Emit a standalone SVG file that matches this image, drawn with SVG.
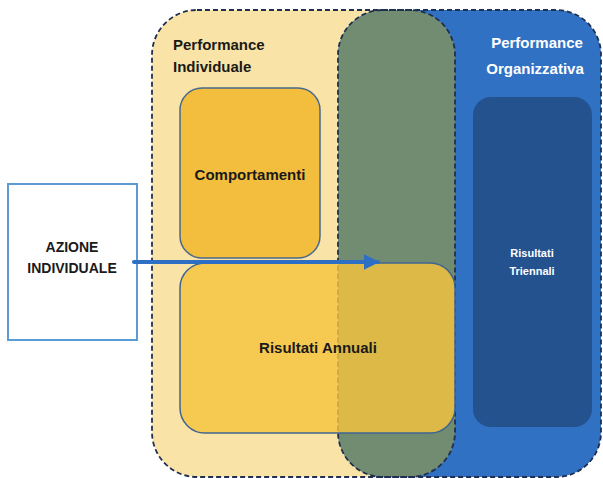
<svg xmlns="http://www.w3.org/2000/svg" width="603" height="478" viewBox="0 0 603 478">
<style>
.lbl{font-family:"Liberation Sans",Arial,sans-serif;font-weight:bold;font-size:15px;fill:#1a1a1a}
.wl{font-family:"Liberation Sans",Arial,sans-serif;font-weight:bold;fill:#ffffff}
.dash{fill:none;stroke:#1F2F4F;stroke-width:1.8;stroke-dasharray:5 3}
</style>
<defs>
<clipPath id="yclip"><rect x="152" y="10" width="303" height="467" rx="45"/></clipPath>
<marker id="ah" viewBox="0 0 10 10" refX="9" refY="5" markerWidth="4" markerHeight="4" orient="auto" markerUnits="strokeWidth">
<path d="M0,0 L10,5 L0,10 z" fill="#2E6FC6"/>
</marker>
</defs>
<rect width="603" height="478" fill="#ffffff"/>
<g id="perf-individuale">
<rect x="152" y="10" width="303" height="467" rx="45" fill="#F9E3A6"/>
</g>
<g id="perf-organizzativa">
<rect x="338" y="10" width="263" height="467" rx="45" fill="#3071C4"/>
<rect x="338" y="10" width="263" height="467" rx="45" fill="#718C70" clip-path="url(#yclip)"/>
<rect x="152" y="10" width="303" height="467" rx="45" class="dash"/>
<rect x="338" y="10" width="263" height="467" rx="45" class="dash"/>
<text class="lbl" x="173" y="50">Performance</text>
<text class="lbl" x="173" y="72">Individuale</text>
<text class="wl" font-size="15" x="537" y="48" text-anchor="middle">Performance</text>
<text class="wl" font-size="15" x="535" y="74" text-anchor="middle">Organizzativa</text>
</g>
<g id="risultati-triennali">
<rect x="473" y="97" width="119" height="330" rx="18" fill="#24528F"/>
<text class="wl" font-size="11" x="532" y="257" text-anchor="middle">Risultati</text>
<text class="wl" font-size="11" x="532" y="275" text-anchor="middle">Triennali</text>
</g>
<g id="comportamenti">
<rect x="180" y="88" width="140" height="170" rx="22" fill="#F3BE3E" stroke="#4A6A8C" stroke-width="1.5"/>
<text class="lbl" x="250" y="180" text-anchor="middle">Comportamenti</text>
</g>
<g id="risultati-annuali">
<rect x="180" y="263" width="275" height="170" rx="25" fill="#F5C33E" fill-opacity="0.82" stroke="#3F6590" stroke-width="1.5"/>
<text class="lbl" x="318" y="353" text-anchor="middle">Risultati Annuali</text>
</g>
<g id="azione-individuale">
<rect x="8" y="184" width="129" height="156" fill="#ffffff" stroke="#5B9BD5" stroke-width="2"/>
<text class="lbl" x="72" y="252" text-anchor="middle" font-size="14" style="font-size:14px">AZIONE</text>
<text class="lbl" x="72" y="273" text-anchor="middle" style="font-size:14px">INDIVIDUALE</text>
</g>
<g id="connectors">
<line x1="134" y1="262" x2="378" y2="262" stroke="#2E6FC6" stroke-width="4" stroke-linecap="round" marker-end="url(#ah)"/>
</g>
</svg>
